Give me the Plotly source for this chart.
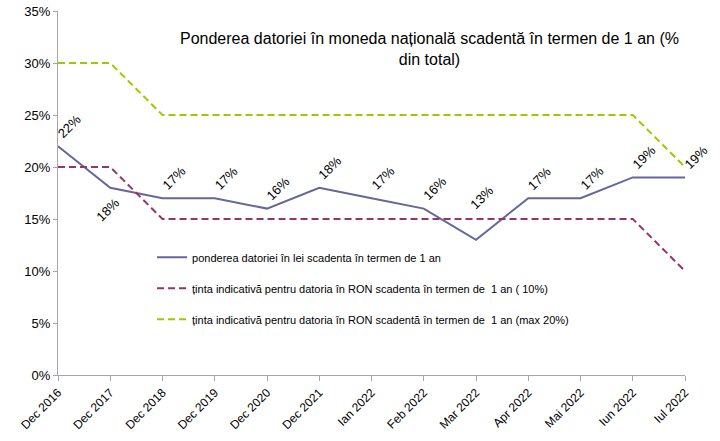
import plotly.graph_objects as go

categories = ["Dec 2016", "Dec 2017", "Dec 2018", "Dec 2019", "Dec 2020", "Dec 2021",
              "Ian 2022", "Feb 2022", "Mar 2022", "Apr 2022", "Mai 2022", "Iun 2022", "Iul 2022"]
pondere = [22, 18, 17, 17, 16, 18, 17, 16, 13, 17, 17, 19, 19]
tinta_min = [20, 20, 15, 15, 15, 15, 15, 15, 15, 15, 15, 15, 10]
tinta_max = [30, 30, 25, 25, 25, 25, 25, 25, 25, 25, 25, 25, 20]
y_ticks = [0, 5, 10, 15, 20, 25, 30, 35]
y_tick_labels = [f"{v}%" for v in y_ticks]

fig = go.Figure()
fig.add_trace(go.Scatter(x=categories, y=pondere, mode="lines",
                         name="ponderea datoriei în lei scadenta în termen de 1 an",
                         line=dict(color="#666699", width=2), legendgroup="a"))
fig.add_trace(go.Scatter(x=categories, y=tinta_min, mode="lines",
                         name="ținta indicativă pentru datoria în RON scadenta în termen de  1 an ( 10%)",
                         line=dict(color="#993366", width=2, dash="7px,4px"), legendgroup="b"))
fig.add_trace(go.Scatter(x=categories, y=tinta_max, mode="lines",
                         name="ținta indicativă pentru datoria în RON scadentă în termen de  1 an (max 20%)",
                         line=dict(color="#99CC00", width=2, dash="7px,4px"), legendgroup="c"))

annotations = []
for i, (c, v) in enumerate(zip(categories, pondere)):
    if i == 1:
        xs, ys = -2, -22
    elif i == 8:
        xs, ys = 6, 42
    else:
        xs, ys = 11, 20
    annotations.append(dict(x=c, y=v, xref="x", yref="y", text=f"{v}%", showarrow=False,
                            textangle=-45, xshift=xs, yshift=ys,
                            font=dict(family="Liberation Sans, Arial", size=13, color="#000")))
annotations.append(dict(x=0.593, y=0.895, xref="paper", yref="paper",
                        text="Ponderea datoriei în moneda națională scadentă în termen de 1 an (%<br>din total)",
                        showarrow=False, align="center", yanchor="middle",
                        font=dict(family="Liberation Sans, Arial", size=16, color="#000")))

fig.update_layout(
    width=720, height=441,
    margin=dict(l=58, r=35, t=11, b=66),
    paper_bgcolor="white", plot_bgcolor="white",
    annotations=annotations,
    showlegend=True,
    legend=dict(x=0.15, y=0.363, xanchor="left", yanchor="top", bgcolor="rgba(0,0,0,0)",
                font=dict(family="Liberation Sans, Arial", size=11, color="#000"),
                tracegroupgap=12, itemwidth=30),
    font=dict(family="Liberation Sans, Arial", color="#000"),
)
fig.update_xaxes(type="category", range=[0, 12], showline=True, linecolor="#A6A6A6", linewidth=1,
                 ticks="outside", ticklen=5, tickcolor="#A6A6A6", tickangle=-45,
                 showgrid=False, tickfont=dict(size=12), automargin=False)
fig.update_yaxes(range=[0, 35], tickvals=y_ticks, ticktext=y_tick_labels, showline=True,
                 linecolor="#A6A6A6", linewidth=1, ticks="outside", ticklen=4, tickcolor="#A6A6A6",
                 showgrid=False, zeroline=False, tickfont=dict(size=13), automargin=False)

fig.write_html("out.html", config={"displayModeBar": False},
               post_script="document.body.style.margin='0';document.body.style.overflow='hidden';")
